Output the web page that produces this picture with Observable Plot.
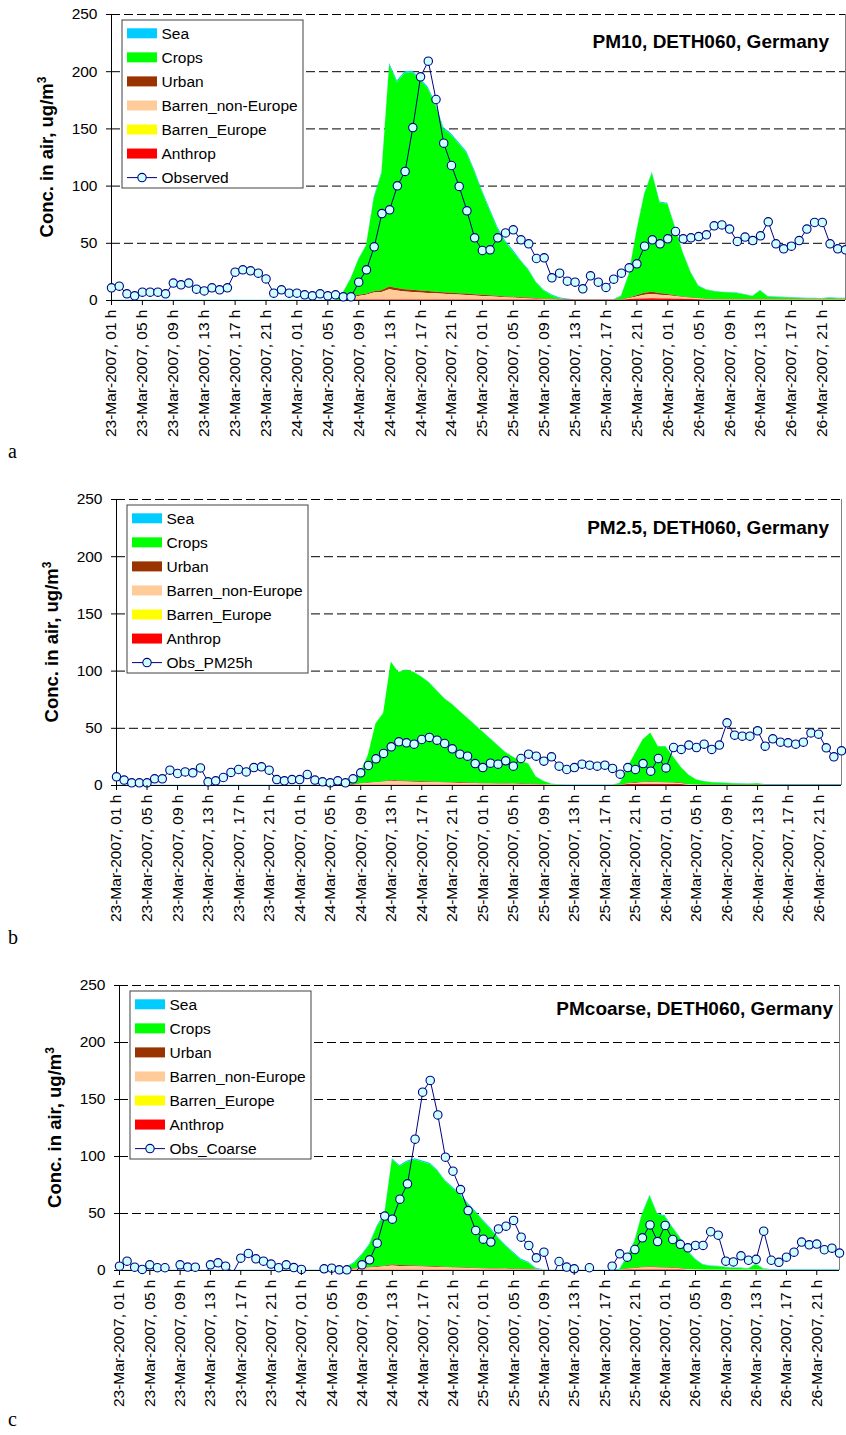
<!DOCTYPE html>
<html>
<head>
<meta charset="utf-8">
<script src="https://cdn.jsdelivr.net/npm/d3@7"></script>
<script src="https://cdn.jsdelivr.net/npm/@observablehq/plot@0.6"></script>
<style>
  body { margin: 0; background: #fff; }
  #chart { position: relative; width: 846px; height: 1435px; background: #fff; }
</style>
</head>
<body>
<div id="chart"></div>
<script>
// Source categories (legend order) and their fills
const seriesNames = ["Sea", "Crops", "Urban", "Barren_non-Europe", "Barren_Europe", "Anthrop"];
const seriesColors = ["#00ccff", "#00ff00", "#993300", "#ffcc99", "#ffff00", "#ff0000"];
// Stacking order, bottom to top
const stackOrder = ["Anthrop", "Barren_Europe", "Barren_non-Europe", "Urban", "Crops", "Sea"];

// Hourly axis, 23-Mar-2007 01 h .. 27-Mar-2007 00 h (96 hours); labelled every 4 hours
const tickLabels = [
  "23-Mar-2007, 01 h", "23-Mar-2007, 05 h", "23-Mar-2007, 09 h", "23-Mar-2007, 13 h", "23-Mar-2007, 17 h", "23-Mar-2007, 21 h",
  "24-Mar-2007, 01 h", "24-Mar-2007, 05 h", "24-Mar-2007, 09 h", "24-Mar-2007, 13 h", "24-Mar-2007, 17 h", "24-Mar-2007, 21 h",
  "25-Mar-2007, 01 h", "25-Mar-2007, 05 h", "25-Mar-2007, 09 h", "25-Mar-2007, 13 h", "25-Mar-2007, 17 h", "25-Mar-2007, 21 h",
  "26-Mar-2007, 01 h", "26-Mar-2007, 05 h", "26-Mar-2007, 09 h", "26-Mar-2007, 13 h", "26-Mar-2007, 17 h", "26-Mar-2007, 21 h"
];
const tickHours = [0, 4, 8, 12, 16, 20, 24, 28, 32, 36, 40, 44, 48, 52, 56, 60, 64, 68, 72, 76, 80, 84, 88, 92];
const yTicks = [0, 50, 100, 150, 200, 250];
const gridValues = [50, 100, 150, 200, 250];

// ---------- PM10 ----------
const obsPM10 = [11.1,12.5,5.8,4.1,7.3,7.3,7.3,5.8,15.2,13.7,
  15.2,9.9,8.4,11.1,9.3,11.1,24.8,26.8,25.9,23.9,
  18.9,6.4,9.3,6.4,6.4,5.0,4.1,5.8,4.1,5.0,
  3.2,3.2,16.0,26.8,46.9,76.0,79.3,100.2,112.8,151.2,
  195.5,209.2,175.7,137.5,118.0,99.7,78.4,54.8,43.7,44.3,
  54.8,59.1,61.8,53.0,49.5,36.7,37.3,19.8,23.9,16.9,
  16.0,10.2,21.6,16.0,11.4,18.6,23.9,28.6,32.1,47.5,
  53.0,49.5,53.9,60.3,53.9,54.8,55.9,57.4,65.3,66.1,
  62.4,51.6,55.4,52.4,56.5,68.8,49.5,45.2,47.5,52.4,
  62.4,68.2,68.2,49.5,45.2,44.3];
const seaPM10 = [0.3,0.3,0.3,0.3,0.3,0.3,0.3,0.3,0.3,0.3,
  0.3,0.3,0.3,0.3,0.3,0.3,0.3,0.3,0.3,0.3,
  0.3,0.3,0.3,0.3,0.3,0.3,0.3,0.3,0.3,0.3,
  0.5,0.5,0.5,0.5,1.5,1.5,1.5,1.5,1.5,1.5,
  1.5,1.5,1.5,1.5,1.5,1.5,1.5,1.5,1.5,1.5,
  1.5,1.5,1.5,0.8,0.8,0.8,0.8,0.8,0.8,0.8,
  0.3,0.3,0.3,0.3,0.3,0.3,0.8,0.8,0.8,0.8,
  0.8,0.8,0.8,0.8,0.8,0.8,0.8,0.4,0.4,0.4,
  0.4,0.4,0.4,0.4,0.4,0.4,0.4,0.4,0.4,0.4,
  0.4,0.4,0.4,0.4,0.4,0.4];
const cropsPM10 = [0,0,0,0,0,0,0,0,0,0,
  0,0,0,0,0,0,0,0,0,0,
  0,0,0,0,0,0,0,0,0,0,
  6.5,16,31,42,81,102,194,180,189,190,
  184,177,163,143,138,130.5,123,107.5,90,74.3,
  58.7,47.4,39.7,31.7,24.1,13.4,7,3.2,0.7,0,
  0,0,0,0,0,0,2.8,20.2,56,85.9,
  103.9,79.1,78.9,59,38.1,21.9,10.6,7.9,6.7,6,
  5.7,5.2,3.9,2.5,7.4,2.2,1.7,1.6,1.3,0.9,
  0.7,0.7,0.5,1,0.7,0.7];
const urbanPM10 = [0,0,0,0,0,0,0,0,0,0,
  0,0,0,0,0,0,0,0,0,0,
  0,0,0,0,0,0,0,0,0,0,
  0,0.5,1,1,1.2,1.5,2.4,2.2,2,1.9,
  1.8,1.6,1.3,1.3,1.3,1.3,1.3,1,1,1,
  1,0.7,0.7,0.7,0.7,0.7,0.4,0.4,0.4,0.3,
  0.2,0.2,0.2,0.2,0.2,0.2,0.2,0.5,1.2,1.8,
  2.1,1.5,1.2,0.8,0.4,0.3,0.3,0.3,0.3,0.3,
  0.3,0.3,0.3,0.3,0.3,0.3,0.3,0.3,0.3,0.3,
  0.3,0.3,0.3,0.3,0.3,0.3];
const barrenNonEuPM10 = [0,0,0,0,0,0,0,0,0,0,
  0,0,0,0,0,0,0,0,0,0,
  0,0,0,0,0,0,0,0,0,0,
  0,1.5,3,4,6,6.5,8.8,7.8,7,6.5,
  6,5.7,5.4,4.9,4.5,4.2,3.8,3.5,3.1,2.7,
  2.3,1.9,1.6,1.3,0.9,0.6,0.6,0.4,0.2,0.1,
  0,0,0,0,0,0,0,0.7,1.8,3.1,
  3.7,3.2,2.8,2.2,1.7,1.2,0.7,0.6,0.3,0.3,
  0.3,0.3,0.3,0.3,0.3,0.3,0.3,0.3,0.3,0.3,
  0.3,0.3,0.3,0.3,0.3,0.3];
const barrenEuPM10 = [0,0,0,0,0,0,0,0,0,0, 0,0,0,0,0,0,0,0,0,0,
  0,0,0,0,0,0,0,0,0,0, 0,0,0,0,0,0,0,0,0,0,
  0,0,0,0,0,0,0,0,0,0, 0,0,0,0,0,0,0,0,0,0,
  0,0,0,0,0,0,0,0,0,0, 0,0,0,0,0,0,0,0,0,0,
  0,0,0,0,0,0,0,0,0,0, 0,0,0,0,0,0];
const anthropPM10 = [0,0,0,0,0,0,0,0,0,0,
  0,0,0,0,0,0,0,0,0,0,
  0,0,0,0,0,0,0,0,0,0,
  0,0.5,0.5,0.5,0.5,0.5,0.5,0.5,0.5,0.5,
  0.5,0.5,0.5,0.5,0.5,0.5,0.5,0.5,0.5,0.5,
  0.5,0.5,0.5,0.5,0.5,0.5,0.2,0.2,0.2,0.2,
  0.2,0.2,0.2,0.2,0.2,0.2,0.2,0.8,1.2,1.4,
  1.5,1.4,1.3,1.2,1,0.8,0.6,0.3,0.3,0.3,
  0.3,0.3,0.3,0.3,0.3,0.3,0.3,0.3,0.3,0.3,
  0.3,0.3,0.3,0.3,0.3,0.3];

// ---------- PM2.5 ----------
const obsPM25 = [7.6,4.7,2.3,2.3,2.3,5.8,5.8,13.4,10.5,11.9,
  11.1,15.4,3.2,4.1,7.0,11.4,14.0,11.9,15.7,16.3,
  13.4,5.2,4.1,5.2,5.2,9.6,4.7,3.2,2.3,4.1,
  2.3,5.8,11.1,17.5,23.3,28.0,33.8,38.2,37.3,36.1,
  40.2,42.0,39.6,36.7,32.1,27.4,25.6,19.2,15.7,19.5,
  18.6,21.6,16.9,23.6,27.4,25.6,21.3,25.1,16.9,14.0,
  15.7,18.6,17.8,16.9,17.8,14.9,9.9,15.7,14.0,19.2,
  12.5,23.6,15.4,33.2,31.5,35.3,33.2,36.1,31.5,35.3,
  54.8,44.0,43.1,43.1,47.8,34.4,40.8,37.9,37.3,36.1,
  37.9,46.0,44.9,32.9,25.1,30.3];
const seaPM25 = [0.2,0.2,0.2,0.2,0.2,0.2,0.2,0.2,0.2,0.2,
  0.2,0.2,0.2,0.2,0.2,0.2,0.2,0.2,0.2,0.2,
  0.2,0.2,0.2,0.2,0.2,0.2,0.2,0.2,0.2,0.2,
  0.3,0.3,0.3,0.3,0.3,0.3,0.3,0.3,0.3,0.3,
  0.3,0.3,0.3,0.3,0.3,0.3,0.3,0.3,0.3,0.3,
  0.3,0.3,0.3,0.3,0.3,0.3,0.3,0.3,0.3,0.3,
  0.3,0.3,0.3,0.3,0.3,0.3,0.3,0.3,0.3,0.3,
  0.3,0.3,0.3,0.3,0.3,0.3,0.3,0.3,0.3,0.3,
  0.3,0.3,0.3,0.3,0.3,0.6,0.6,0.6,0.6,0.6,
  0.6,0.6,0.6,0.6,0.6,0.6];
const cropsPM25 = [0,0,0,0,0,0,0,0,0,0,
  0,0,0,0,0,0,0,0,0,0,
  0,0,0,0,0,0,0,0,0,0,
  1.3,4.1,9.1,24.1,51.1,59.6,103.3,94.8,97,95.2,
  91.4,86.6,79.8,73,68.2,62.3,56.5,50.8,44.9,39,
  33.1,27.2,23.3,19.4,17.5,6.2,2.7,0.8,0.2,0,
  0,0,0,0,0,0,1.6,13.9,25.4,36.9,
  42.6,30.8,31,22.3,13.6,8.3,4.3,3,2.1,1.8,
  1.5,1.2,1,0.8,1.3,0.1,0.1,0.1,0.1,0.1,
  0.1,0.1,0.1,0.1,0.1,0.1];
const urbanPM25 = [0,0,0,0,0,0,0,0,0,0,
  0,0,0,0,0,0,0,0,0,0,
  0,0,0,0,0,0,0,0,0,0,
  0,0.3,0.3,0.3,0.3,0.3,0.6,0.6,0.6,0.6,
  0.6,0.6,0.6,0.6,0.6,0.6,0.6,0.4,0.4,0.4,
  0.4,0.4,0.4,0.4,0.4,0.4,0.4,0.1,0.1,0.1,
  0.1,0.1,0.1,0.1,0.1,0.1,0.1,0.5,0.5,0.5,
  0.5,0.5,0.5,0.5,0.5,0.1,0.1,0.1,0.1,0.1,
  0.1,0.1,0.1,0.1,0.1,0.1,0.1,0.1,0.1,0.1,
  0.1,0.1,0.1,0.1,0.1,0.1];
const barrenNonEuPM25 = [0,0,0,0,0,0,0,0,0,0,
  0,0,0,0,0,0,0,0,0,0,
  0,0,0,0,0,0,0,0,0,0,
  0,0,1,1.5,2,2.5,3.5,3,2.8,2.6,
  2.4,2.2,2,1.8,1.6,1.5,1.3,1.2,1.1,1,
  0.9,0.8,0.7,0.6,0.5,0.4,0.3,0.2,0,0,
  0,0,0,0,0,0,0,0.5,1,1.5,
  1.8,1.6,1.4,1.1,0.8,0.5,0.3,0.1,0.1,0.1,
  0.1,0.1,0.1,0.1,0.1,0.1,0.1,0.1,0.1,0.1,
  0.1,0.1,0.1,0.1,0.1,0.1];
const barrenEuPM25 = [0,0,0,0,0,0,0,0,0,0, 0,0,0,0,0,0,0,0,0,0,
  0,0,0,0,0,0,0,0,0,0, 0,0,0,0,0,0,0,0,0,0,
  0,0,0,0,0,0,0,0,0,0, 0,0,0,0,0,0,0,0,0,0,
  0,0,0,0,0,0,0,0,0,0, 0,0,0,0,0,0,0,0,0,0,
  0,0,0,0,0,0,0,0,0,0, 0,0,0,0,0,0];
const anthropPM25 = [0,0,0,0,0,0,0,0,0,0,
  0,0,0,0,0,0,0,0,0,0,
  0,0,0,0,0,0,0,0,0,0,
  0,0.3,0.3,0.3,0.3,0.3,0.3,0.3,0.3,0.3,
  0.3,0.3,0.3,0.3,0.3,0.3,0.3,0.3,0.3,0.3,
  0.3,0.3,0.3,0.3,0.3,0.3,0,0,0,0,
  0,0,0,0,0,0,0,0.8,0.8,0.8,
  0.8,0.8,0.8,0.8,0.8,0,0,0,0,0,
  0,0,0,0,0,0,0,0,0,0,
  0,0,0,0,0,0];

// ---------- PMcoarse (negative observations fall below the axis) ----------
const obsCoarse = [3.8,8.2,2.9,0.9,5,2.4,2.4,-8,5,3,
  2.9,-8,5,6.7,3.8,-1.5,10.8,14.9,10.2,8.2,
  5.6,2.4,5,2.6,0.9,-8,-3,1.5,2,0.6,
  0.6,-2,5,9.4,24,47.7,45,62.6,76,115.2,
  156.4,166.7,136.5,99.4,87.1,71,52.6,35.1,27.5,24.9,
  36.5,38.9,43.9,29.2,22,11.1,16.1,-8,7.9,3,
  1.5,-8,2.4,-5,-4,3.8,14.6,11.7,18.4,28.7,
  40,25.4,39.5,27.2,23,19.9,22,22,34,31,
  8.2,7.5,12.9,9,9.8,34.5,9,7.2,11.7,16.1,
  24.9,22.5,23.2,18.2,19.6,15.3];
const seaCoarse = [0.3,0.3,0.3,0.3,0.3,0.3,0.3,0.3,0.3,0.3,
  0.3,0.3,0.3,0.3,0.3,0.3,0.3,0.3,0.3,0.3,
  0.3,0.3,0.3,0.3,0.3,0.3,0.3,0.3,0.3,0.5,
  0.8,0.8,0.8,0.8,1,1,1,1,1,1,
  1,1,1,1,1,1,1,1,1,1,
  1,1,1,1,1,1,0.3,0.3,0.3,0.3,
  0.3,0.3,0.3,0.3,0.3,0.3,0.8,0.8,0.8,0.8,
  0.8,0.8,0.8,0.8,0.8,0.8,0.8,0.5,0.5,0.5,
  0.5,0.5,0.5,0.5,0.5,0.5,0.5,0.5,0.5,0.5,
  0.5,0.5,0.5,0.5,0.5,0.5];
const cropsCoarse = [0,0,0,0,0,0,0,0,0,0,
  0,0,0,0,0,0,0,0,0,0,
  0,0,0,0,0,0,0,0,0,0,
  2.2,4.6,11.1,19.6,34.8,45.2,92.2,86.6,90.8,93,
  91.2,89.6,83.8,75.1,69.3,63.5,55.8,49,41.2,34.4,
  26.5,19.6,13.8,7.9,5.3,0.1,0,0,0,0,
  0,0,0,0,0,0,0.2,9.7,23.2,46.6,
  62.2,46.4,44.7,35,26.3,16,8.7,4.5,3.2,3,
  2.1,1.5,1.5,0.7,5,0.7,0,0,0,0,
  0,0,0,0,0,0];
const urbanCoarse = [0,0,0,0,0,0,0,0,0,0,
  0,0,0,0,0,0,0,0,0,0,
  0,0,0,0,0,0,0,0,0,0,
  0,0.4,0.4,0.4,0.5,0.6,0.8,0.8,0.8,0.8,
  0.8,0.6,0.6,0.5,0.5,0.5,0.4,0.4,0.4,0.4,
  0.4,0.4,0.3,0.3,0.3,0.3,0.1,0,0,0,
  0,0,0,0,0,0,0,0.5,0.5,0.5,
  0.5,0.5,0.5,0.5,0.5,0.1,0.1,0.1,0.1,0.1,
  0.1,0.1,0.1,0.1,0.1,0.1,0.1,0.1,0.1,0.1,
  0.1,0.1,0.1,0.1,0.1,0.1];
const barrenNonEuCoarse = [0,0,0,0,0,0,0,0,0,0,
  0,0,0,0,0,0,0,0,0,0,
  0,0,0,0,0,0,0,0,0,0,
  0,1,1.5,2,2.5,3,3.8,3.4,3.2,3,
  2.8,2.6,2.4,2.2,2,1.8,1.6,1.4,1.2,1,
  0.9,0.8,0.7,0.6,0.5,0.4,0.2,0,0,0,
  0,0,0,0,0,0,0,0.5,1,1.6,
  2,1.8,1.5,1.2,0.9,0.6,0.4,0.2,0.2,0.2,
  0.2,0.2,0.2,0.2,0.2,0.2,0.2,0.2,0.2,0.2,
  0.2,0.2,0.2,0.2,0.2,0.2];
const barrenEuCoarse = [0,0,0,0,0,0,0,0,0,0, 0,0,0,0,0,0,0,0,0,0,
  0,0,0,0,0,0,0,0,0,0, 0,0,0,0,0,0,0,0,0,0,
  0,0,0,0,0,0,0,0,0,0, 0,0,0,0,0,0,0,0,0,0,
  0,0,0,0,0,0,0,0,0,0, 0,0,0,0,0,0,0,0,0,0,
  0,0,0,0,0,0,0,0,0,0, 0,0,0,0,0,0];
const anthropCoarse = [0,0,0,0,0,0,0,0,0,0,
  0,0,0,0,0,0,0,0,0,0,
  0,0,0,0,0,0,0,0,0,0,
  0,0.2,0.2,0.2,0.2,0.2,0.2,0.2,0.2,0.2,
  0.2,0.2,0.2,0.2,0.2,0.2,0.2,0.2,0.2,0.2,
  0.2,0.2,0.2,0.2,0.2,0.2,0,0,0,0,
  0,0,0,0,0,0,0,0.5,0.5,0.5,
  0.5,0.5,0.5,0.5,0.5,0,0,0,0,0,
  0,0,0,0,0,0,0,0,0,0,
  0,0,0,0,0,0];

// Panel layout (pixel placement of each SVG within the page)
const panels = [
  { tag: "a", top: 0, height: 470, ml: 111, mr: 1, mb: 170, title: "PM10, DETH060, Germany", titleX: 829, titleY: 48, tagY: 458,
    obsName: "Observed", obs: obsPM10,
    parts: { "Sea": seaPM10, "Crops": cropsPM10, "Urban": urbanPM10, "Barren_non-Europe": barrenNonEuPM10, "Barren_Europe": barrenEuPM10, "Anthrop": anthropPM10 } },
  { tag: "b", top: 485, height: 470, ml: 116, mr: 5, mb: 170, title: "PM2.5, DETH060, Germany", titleX: 829, titleY: 49, tagY: 459,
    obsName: "Obs_PM25h", obs: obsPM25,
    parts: { "Sea": seaPM25, "Crops": cropsPM25, "Urban": urbanPM25, "Barren_non-Europe": barrenNonEuPM25, "Barren_Europe": barrenEuPM25, "Anthrop": anthropPM25 } },
  { tag: "c", top: 971, height: 464, ml: 119, mr: 7, mb: 165, title: "PMcoarse, DETH060, Germany", titleX: 833, titleY: 44, tagY: 455,
    obsName: "Obs_Coarse", obs: obsCoarse,
    parts: { "Sea": seaCoarse, "Crops": cropsCoarse, "Urban": urbanCoarse, "Barren_non-Europe": barrenNonEuCoarse, "Barren_Europe": barrenEuCoarse, "Anthrop": anthropCoarse } }
];

const container = document.getElementById("chart");
const FONT = "'Liberation Sans', Arial, Helvetica, sans-serif";

for (const p of panels) {
  const rows = [];
  for (const name of seriesNames) {
    p.parts[name].forEach((v, i) => rows.push({ hour: i, series: name, value: v }));
  }
  const obsRows = p.obs.map((v, i) => ({ hour: i, value: v }));
  const marginTop = 14;
  const plotH = p.height - marginTop - p.mb;

  const svgEl = Plot.plot({
    width: 846,
    height: p.height,
    marginTop,
    marginLeft: p.ml,
    marginRight: p.mr,
    marginBottom: p.mb,
    style: { fontFamily: FONT, fontSize: "15.5px", color: "#000", background: "transparent", overflow: "visible" },
    x: { type: "linear", domain: [0, 95] },
    y: { domain: [0, 250] },
    color: { domain: seriesNames, range: seriesColors },
    marks: [
      Plot.ruleY(gridValues, { stroke: "#000", strokeWidth: 1, strokeDasharray: "9,4" }),
      Plot.areaY(rows, { x: "hour", y: "value", fill: "series", order: stackOrder }),
      Plot.ruleX([95], { stroke: "#808080" }),
      Plot.ruleY([0], { stroke: "#000" }),
      Plot.ruleX([0], { stroke: "#000" }),
      Plot.line(obsRows, { x: "hour", y: "value", stroke: "#000080", strokeWidth: 1, clip: true }),
      Plot.dot(obsRows, { filter: d => d.value >= 0, x: "hour", y: "value", r: 4.2, fill: "#ccffff", stroke: "#000080", strokeWidth: 1.1 }),
      Plot.axisY({ ticks: yTicks, tickSize: 5, tickPadding: 9, label: null }),
      Plot.axisX({ ticks: tickHours, tickFormat: d => tickLabels[d / 4], tickRotate: -90, tickSize: 5, tickPadding: 4, label: null })
    ]
  });

  const svg = d3.select(svgEl)
    .style("position", "absolute")
    .style("left", "0px")
    .style("top", p.top + "px");

  // vertical axis title with superscript
  const yl = svg.append("text")
    .attr("transform", `translate(${p.ml - 58},${marginTop + plotH / 2}) rotate(-90)`)
    .attr("text-anchor", "middle")
    .attr("font-weight", "bold")
    .attr("font-size", "18.5px")
    .attr("fill", "#000")
    .text("Conc. in air, ug/m");
  yl.append("tspan").attr("dy", "-7").attr("font-size", "12px").text("3");

  // panel title
  svg.append("text")
    .attr("x", p.titleX).attr("y", p.titleY)
    .attr("text-anchor", "end")
    .attr("font-weight", "bold")
    .attr("font-size", "19px")
    .attr("fill", "#000")
    .text(p.title);

  // legend box
  const lg = svg.append("g")
    .attr("transform", `translate(${p.ml + 11},20)`)
    .attr("text-anchor", "start");
  lg.append("rect").attr("width", 181).attr("height", 168)
    .attr("fill", "#fff").attr("stroke", "#404040").attr("stroke-width", 1);
  seriesNames.forEach((name, k) => {
    const cy = 13.3 + k * 24.05;
    lg.append("rect").attr("x", 5).attr("y", cy - 5).attr("width", 30).attr("height", 10).attr("fill", seriesColors[k]);
    lg.append("text").attr("x", 39.5).attr("y", cy).attr("dy", "0.36em").attr("text-anchor", "start").attr("fill", "#000").text(name);
  });
  const oy = 13.3 + 6 * 24.05;
  lg.append("line").attr("x1", 5).attr("x2", 35).attr("y1", oy).attr("y2", oy).attr("stroke", "#000080");
  lg.append("circle").attr("cx", 20).attr("cy", oy).attr("r", 4.2)
    .attr("fill", "#ccffff").attr("stroke", "#000080").attr("stroke-width", 1.1);
  lg.append("text").attr("x", 39.5).attr("y", oy).attr("dy", "0.36em").attr("text-anchor", "start").attr("fill", "#000").text(p.obsName);

  // panel letter
  svg.append("text")
    .attr("x", 8).attr("y", p.tagY)
    .attr("text-anchor", "start")
    .attr("font-family", "'Liberation Serif', 'Times New Roman', serif")
    .attr("font-size", "20px")
    .attr("fill", "#000")
    .text(p.tag);

  container.appendChild(svgEl);
}
</script>
</body>
</html>
